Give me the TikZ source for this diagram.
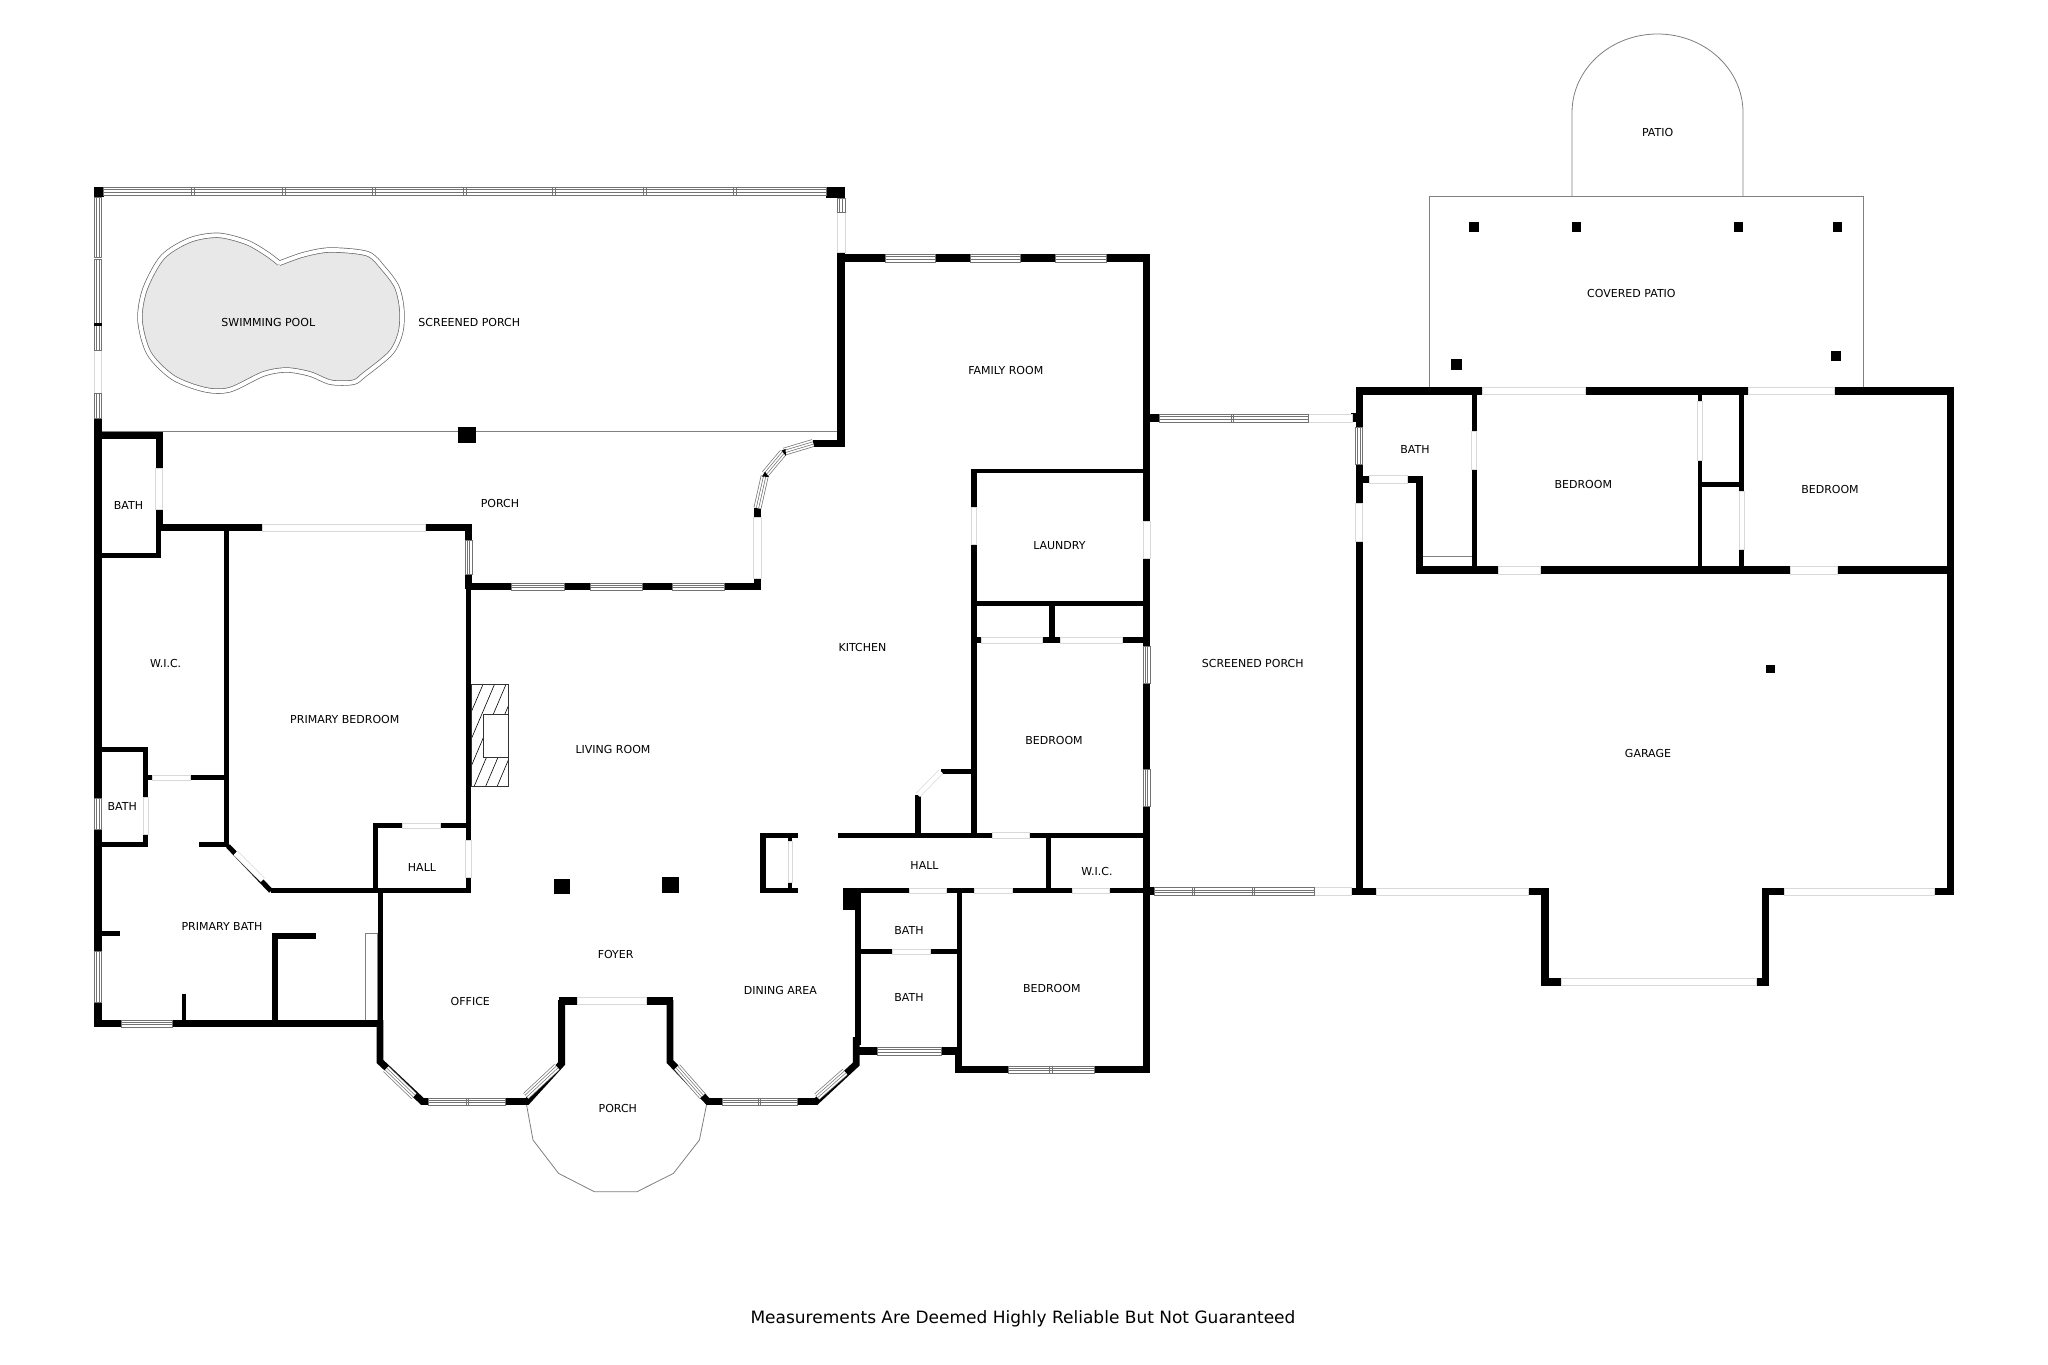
\documentclass[tikz,border=0pt]{standalone}
\usepackage{fontspec}
\setmainfont{DejaVu Sans}
\tikzset{
  wall/.style={fill=black},
  wallline/.style={draw=black, line width=6.8pt, miter limit=10},
  pane/.style={draw=black!55, fill=white, line width=.7pt},
  gap/.style={draw=black!15, fill=white, line width=.7pt},
  outline/.style={draw=black!50, line width=.8pt},
  slantpane/.style={draw=black!55, line width=.7pt, double=white, double distance=#1},
  slantgap/.style={draw=black!15, line width=.7pt, double=white, double distance=4.5pt},
  room/.style={font=\fontsize{11}{13}\selectfont, inner sep=0pt},
}
\begin{document}
\begin{tikzpicture}[x=1pt,y=-1pt]
    \useasboundingbox[fill=white] (0,0) rectangle (2048,1365);
    % pool
    \draw[fill=black!9, draw=black!60, line width=.7pt, double=white, double distance=3.9pt]
      plot[smooth, tension=.5] coordinates {(279.3,263.3) (303.3,254.7) (330,250) (367.3,253.7) (383.3,268.3)
        (396.7,286.7) (401.7,308.3) (400.7,331.7) (391,352.7) (364,375) (353.3,382.3) (330.7,382.3)
        (310,374) (286.7,370) (263.3,374) (230,389.7) (205,389.7) (173.3,377.7) (149,353.3) (140,320)
        (145,289) (162.7,257) (190,240) (218.3,235.3) (246.7,242.3) (266.7,253.7) (279.3,263.3)};
    % outlines of the outdoor parts
    \draw[outline] (1429,387.4) -- (1429,196.7) -- (1863.7,196.7) -- (1863.7,387.4);
    \draw[outline] (1572,196.7) -- (1572,112.6) arc[start angle=180, end angle=360, x radius=85.5, y radius=78.6] -- (1743,196.7);
    \draw[outline] (526.4,1104) -- (533,1140) -- (558.6,1173.4) -- (594.3,1191.7) -- (637,1191.7)
      -- (673.4,1173.4) -- (699.4,1140) -- (706.5,1105);
    \draw[outline] (101.7,431.7) -- (837,431.7);
    \draw[outline] (365.7,933) rectangle (377.5,1020);
    \draw[outline] (1422.9,556) -- (1471.8,556);
    % fireplace
    \begin{scope}
      \clip (471,684.6) rectangle (508.6,786.7);
      \foreach \i in {0,...,7} {
        \draw[line width=.6pt] (428+11.5*\i,786.7) -- (471.4+11.5*\i,684.6);
      }
    \end{scope}
    \draw[line width=.7pt, black!80] (471,684.6) rectangle (508.6,786.7);
    \draw[line width=.7pt, black!80, fill=white] (483,714) rectangle (508.6,757.7);
    % walls
    \foreach \a/\b/\c/\d in {94/187/103.5/197, 826/187/845/198, 837/252/845/447, 813/440/845/447,
      837/254/1150/262, 1143/254/1150/1073, 94/418/101.7/1027, 94/432/163/439, 155.5/432/162.6/531,
      155.5/524/160.6/558, 155.5/524/472/531, 101/553/160/558, 465/524/472/589, 466/583/761/590,
      466/589/471/893, 753.5/508/761/590, 224/531/229/847, 101/747/148/752, 143/747/148/847,
      101/842/148/847, 148/775/229/780, 199.4/842/229/847, 271/888/471/893.4, 373/823/378/893,
      373/823/471/828, 377.5/888/382.6/1022, 94/1020/382/1027, 181.5/994/186/1020,
      272.3/933/277.5/1020, 272.3/933/315.7/939, 101/931/120/936, 558.6/997/673/1004.6,
      458/427.3/476.4/442.7, 553.5/879/570/894, 662/877/678.5/893, 759.6/833/798/838,
      759.6/888/798/893.4, 759.6/833/765.5/893.4, 787.5/838/792.4/841, 787.5/882/792.4/888,
      837.5/832.7/1146/838, 915/795/920.5/833, 941/768.5/973/773.6, 971.4/468.5/976.8/838,
      971/468.5/1146/473, 971/601/1146/605.6, 1049/605.6/1054.5/637, 971/637/1146/643,
      843/888/1146/893, 843/888/860.7/910, 855.4/893/860.7/1045, 860/949/958/954,
      956.7/893/962/1073, 954.5/1055/962/1073, 855/1047/957/1055, 954.5/1066/1150/1073,
      1046.4/832.7/1051.3/888, 1146/414/1159/422, 1351.4/413/1362.5/422, 1146/887/1154.5/895.3,
      1351.4/887.7/1376/895, 1355.5/387.4/1953.5/394.8, 1355.5/387.4/1362.5/895,
      1947/387.4/1953.5/895, 1361.6/475.6/1423/483, 1415.5/475.6/1423/574.4,
      1415.5/566.3/1953.5/574.4, 1471.8/394.8/1476.7/566, 1697.6/394.8/1702.4/566,
      1739.2/394.8/1744/566, 1702.4/481.9/1739.2/486.7, 1528.6/887.7/1549/895,
      1541.2/887.7/1549/985.7, 1541.2/978.3/1769.4/985.7, 1762/887.7/1769.4/985.7,
      1762/887.7/1784/895, 1934.7/887.7/1953.5/895, 1469.4/221.9/1479.2/231.9,
      1571.8/221.9/1581.2/231.9, 1733.9/221.9/1743.3/231.9, 1832.7/221.9/1842/231.9,
      1450.6/358.9/1462/369.6, 1831.4/351/1840.8/361, 1765.7/665/1774.7/672.7} {
      \fill[wall] (\a,\b) rectangle (\c,\d);
    }
    \draw[wallline, line width=5pt] (228,846) -- (271,891);
    \draw[wallline] (380,1020) -- (380,1061.5) -- (422.5,1101.5) -- (527,1101.5) -- (561.6,1063.5) -- (561.6,1000);
    \draw[wallline] (670,1000) -- (670,1061.5) -- (708,1101.5) -- (816,1101.5) -- (856.3,1064) -- (856.3,1037);
    % openings
    \foreach \a/\b/\c/\d in {837/212/845/252, 94/350/101.7/393, 155.5/468/162.6/509, 262.6/524/425.4/531,
      465/840/471/877, 753.5/517/761/578, 152.4/775/190/780, 402.5/823/440.7/828, 143/797/148/834.5,
      577.5/997/646/1004.6, 788/841/792/882, 992.4/832.7/1029.5/838, 971.4/507/976.8/544,
      1143/521.4/1150/558.6, 981/637/1042.4/643, 1060.7/637/1122/643, 909/888/946.4/893,
      974.5/888/1012.5/893, 1072.8/888/1109.8/893, 892/949/930/954, 1308/414/1352/422,
      1314.7/887/1351.4/895.3, 1482/387.4/1585/394.8, 1748/387.4/1834/394.8, 1355.5/503.3/1362.5/541.5,
      1369.8/475.6/1407.3/483, 1498.4/566.3/1540.4/574.4, 1790.2/566.3/1837/574.4, 1471.8/431/1476.7/469,
      1697.6/401.5/1702.4/460.7, 1739.2/491/1744/549.6, 1376/888/1528.6/895, 1561.6/978.3/1756.3/985.7,
      1784/888/1934.7/895} {
      \draw[gap] (\a,\b) rectangle (\c,\d);
    }
    \draw[slantgap] (235.6,853) -- (262.7,880);
    \draw[slantgap] (918,795) -- (941,771.6);
    % windows along x
    \foreach \a/\c/\b/\d in {103.5/826/187/195, 428.5/505/1098/1105, 722/797/1098/1105, 1008/1094/1066/1073,
      1159/1308/414/422, 1154.5/1314.7/887/895.3, 103.5/191/187/195, 194/282/187/195, 285/372/187/195,
      375/463/187/195, 466/552/187/195, 555/643/187/195, 646/733/187/195, 736/826/187/195, 885/935.7/254/262,
      970/1020.5/254/262, 1055.8/1106/254/262, 511/564/583/590, 590/642/583/590, 672/724.4/583/590,
      121/172/1020/1027, 428.5/466/1098/1105, 468/505/1098/1105, 722/758/1098/1105, 760/797/1098/1105,
      877/941/1047/1055, 1008/1049/1066/1073, 1052/1094/1066/1073, 1159/1231/414/422, 1233/1308/414/422,
      1154.5/1192/887/895.3, 1194/1252.6/887/895.3, 1254.6/1314.7/887/895.3} {
      \draw[pane] (\a,\b) rectangle (\c,\d);
      \draw[pane] (\a,{(\b+\d)/2-1.2}) rectangle (\c,{(\b+\d)/2+1.2});
    }
    % windows along y
    \foreach \a/\c/\b/\d in {837/845/198/212, 94/101.7/197/257, 94/101.7/259/323, 94/101.7/325.5/350,
      94/101.7/393/418, 465/472/540/574, 94/101.7/798/829, 94/101.7/951.5/1002.5, 1143/1150/646/683.5,
      1143/1150/769.6/806, 1355.5/1362.5/427.4/464.4} {
      \draw[pane] (\a,\b) rectangle (\c,\d);
      \draw[pane] ({(\a+\c)/2-1.2},\b) rectangle ({(\a+\c)/2+1.2},\d);
    }
    \fill[wall] (94,323) rectangle (101.7,325.5);
    % slanted windows
    \foreach \a/\b/\c/\d in {386/1069/414/1096, 526/1096/557/1067, 677/1067/702.4/1096, 817/1096.7/845/1072,
      757.5/508/764.7/476, 765.2/474/783/452.7, 784/451.7/813/443} {
      \draw[slantpane=6.4pt] (\a,\b) -- (\c,\d);
      \draw[slantpane=1.6pt] (\a,\b) -- (\c,\d);
    }
    \fill[wall] (781.5,450.5) -- (785.5,449) -- (786,456) -- cycle;
    \fill[wall] (762,476.5) -- (765,471.7) -- (769,477) -- cycle;
    % labels
    \node[room] (swimpool) at (268.3,322) {SWIMMING POOL};
    \node[room] (screenporch) at (469.3,322) {SCREENED PORCH};
    \node[room] (backporch) at (500,503) {PORCH};
    \node[room] (bathupper) at (128.5,505) {BATH};
    \node[room] (wicleft) at (165.7,663) {W.I.C.};
    \node[room] (primarybed) at (344.8,719) {PRIMARY BEDROOM};
    \node[room] (living) at (613,749) {LIVING ROOM};
    \node[room] (bathlower) at (122.3,806) {BATH};
    \node[room] (hallleft) at (422,867) {HALL};
    \node[room] (primarybath) at (222,926.6) {PRIMARY BATH};
    \node[room] (foyer) at (615.7,954) {FOYER};
    \node[room] (office) at (470.3,1001) {OFFICE};
    \node[room] (dining) at (780.4,990) {DINING AREA};
    \node[room] (frontporch) at (617.8,1108.7) {PORCH};
    \node[room] (family) at (1005.8,370.4) {FAMILY ROOM};
    \node[room] (laundry) at (1059.4,546) {LAUNDRY};
    \node[room] (kitchen) at (862.5,647) {KITCHEN};
    \node[room] (screenside) at (1252.7,663.7) {SCREENED PORCH};
    \node[room] (bedmid) at (1054,740.4) {BEDROOM};
    \node[room] (hallright) at (924.5,865.7) {HALL};
    \node[room] (wicright) at (1097,871.7) {W.I.C.};
    \node[room] (bathone) at (909,930) {BATH};
    \node[room] (bathtwo) at (909,997.7) {BATH};
    \node[room] (bedlow) at (1051.8,988) {BEDROOM};
    \node[room] (patio) at (1657.6,132) {PATIO};
    \node[room] (covered) at (1631.4,293) {COVERED PATIO};
    \node[room] (bathguest) at (1415,449) {BATH};
    \node[room] (bedguesta) at (1583.3,484.4) {BEDROOM};
    \node[room] (bedguestb) at (1830,489.3) {BEDROOM};
    \node[room] (garage) at (1648,753) {GARAGE};
    \node[inner sep=0pt, font=\fontsize{17}{20}\selectfont] (disclaimer) at (1023,1319) {Measurements Are Deemed Highly Reliable But Not Guaranteed};
  \end{tikzpicture}
\end{document}
